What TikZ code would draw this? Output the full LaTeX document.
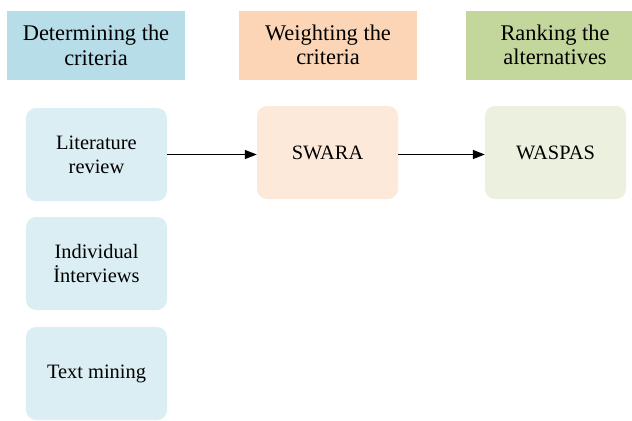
\documentclass[tikz,border=0pt]{standalone}
\usepackage{fontspec}
\setmainfont{LiberationSerif}[Extension=.ttf, UprightFont=*-Regular, BoldFont=*-Bold]
\usetikzlibrary{arrows.meta}
\definecolor{hblue}{HTML}{B7DDE8}
\definecolor{horange}{HTML}{FBD5B5}
\definecolor{hgreen}{HTML}{C3D69B}
\definecolor{lblue}{HTML}{DBEEF3}
\definecolor{lorange}{HTML}{FDE9D9}
\definecolor{lgreen}{HTML}{EBF1DE}
\tikzset{
  header/.style={minimum width=178bp, minimum height=69bp, inner sep=0pt, align=center,
    font=\fontsize{22.5}{24.5}\selectfont},
  stepbox/.style={rounded corners=10bp, minimum width=141bp, minimum height=93bp, inner sep=0pt,
    align=center, font=\fontsize{20.5}{24}\selectfont},
  conn/.style={line width=1.4bp, -{Triangle[length=12bp,width=9bp]}}
}
\begin{document}
\begin{tikzpicture}[x=1bp,y=-1bp]
\useasboundingbox (0,0) rectangle (632,420);
\clip (0,0) rectangle (632,420);
\node[header, fill=hblue] (h1) at (96,45.5) {Determining the\\criteria};
\node[header, fill=horange] (h2) at (328,45) {Weighting the\\criteria};
\node[header, fill=hgreen] (h3) at (555,45) {Ranking the\\alternatives};
\node[stepbox, fill=lblue] (lit) at (96.5,154.5) {Literature\\review};
\node[stepbox, fill=lblue] (ind) at (96.5,263.5) {Individual\\İnterviews};
\node[stepbox, fill=lblue] (txt) at (96.5,373.5) {Text mining};
\node[stepbox, fill=lorange] (swara) at (327.5,152.5) {SWARA};
\node[stepbox, fill=lgreen] (waspas) at (555.5,152.5) {WASPAS};
\draw[conn] (lit.east) -- (lit.east -| swara.west);
\draw[conn] (swara.east |- lit.east) -- (lit.east -| waspas.west);
\end{tikzpicture}
\end{document}
